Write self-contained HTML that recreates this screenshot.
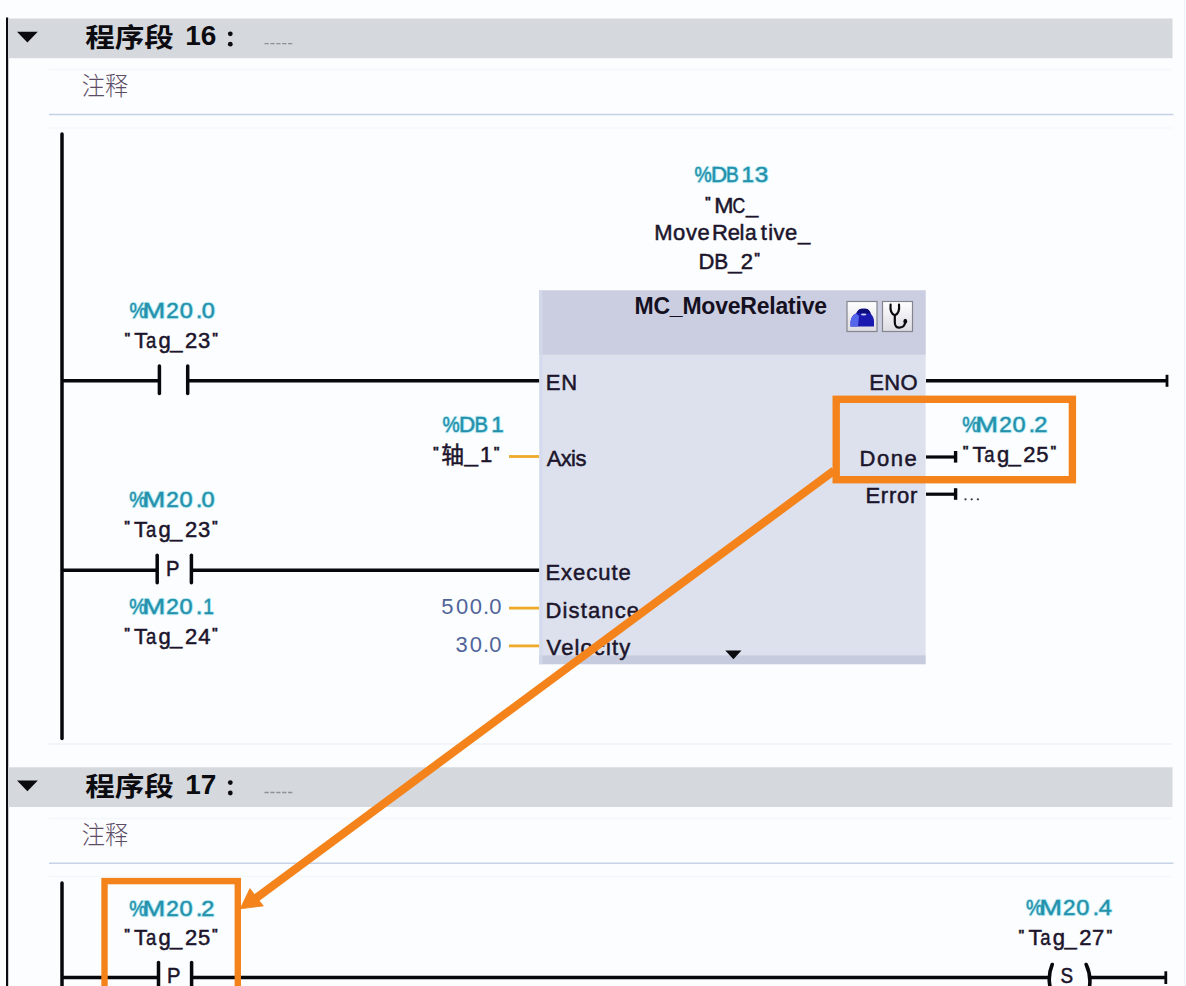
<!DOCTYPE html>
<html><head><meta charset="utf-8"><title>LAD</title>
<style>
html,body{margin:0;padding:0;background:#fbfdfe;}
body{width:1186px;height:986px;overflow:hidden;font-family:"Liberation Sans",sans-serif;}
svg{display:block;font-family:"Liberation Sans",sans-serif;}
</style></head><body>
<svg width="1186" height="986" viewBox="0 0 1186 986">
<rect width="1186" height="986" fill="#fbfdfe"/>
<rect x="6" y="17.5" width="2.2" height="970" fill="#0b0b14"/>
<rect x="8" y="18.5" width="1164.5" height="39.7" fill="#d5d8dc"/><path d="M17,31.8 L37.8,31.8 L27.4,42.4 Z" fill="#0a0a0f"/><text transform="translate(85.20,46.70) scale(1,0.89)" font-size="29.6" font-weight="bold" fill="#0b0b10" font-family="'Liberation Sans','Noto Sans CJK SC',sans-serif">程序段</text><text x="185.24" y="45.3" font-size="28" fill="#0b0b10" letter-spacing="-0.169" font-weight="bold">16</text><circle cx="230.3" cy="33.8" r="2.4" fill="#0b0b10"/><circle cx="230.3" cy="44.2" r="2.4" fill="#0b0b10"/><line x1="264.5" y1="43.7" x2="292.5" y2="43.7" stroke="#8d9096" stroke-width="1.3" stroke-dasharray="4.2,1.7"/><text transform="translate(81.80,94.80) scale(1,1.07)" font-size="23.2" font-weight="300" fill="#5d4c66" font-family="'Liberation Sans','Noto Sans CJK SC',sans-serif">注释</text><line x1="49" y1="114.5" x2="1173.5" y2="114.5" stroke="#c6d3e6" stroke-width="1.6"/>
<rect x="8" y="767.3" width="1164.5" height="39.7" fill="#d5d8dc"/><path d="M17,780.5999999999999 L37.8,780.5999999999999 L27.4,791.1999999999999 Z" fill="#0a0a0f"/><text transform="translate(85.20,795.50) scale(1,0.89)" font-size="29.6" font-weight="bold" fill="#0b0b10" font-family="'Liberation Sans','Noto Sans CJK SC',sans-serif">程序段</text><text x="185.24" y="794.0999999999999" font-size="28" fill="#0b0b10" letter-spacing="0.050" font-weight="bold">17</text><circle cx="230.3" cy="782.5999999999999" r="2.4" fill="#0b0b10"/><circle cx="230.3" cy="793.0" r="2.4" fill="#0b0b10"/><line x1="264.5" y1="792.5" x2="292.5" y2="792.5" stroke="#8d9096" stroke-width="1.3" stroke-dasharray="4.2,1.7"/><text transform="translate(81.80,843.60) scale(1,1.07)" font-size="23.2" font-weight="300" fill="#5d4c66" font-family="'Liberation Sans','Noto Sans CJK SC',sans-serif">注释</text><line x1="49" y1="863.3" x2="1173.5" y2="863.3" stroke="#c6d3e6" stroke-width="1.6"/>
<line x1="49" y1="744" x2="1172" y2="744" stroke="#eef2f7" stroke-width="1.5"/>
<line x1="1184.6" y1="0" x2="1184.6" y2="986" stroke="#eff3f7" stroke-width="1.4"/>
<line x1="49" y1="69.5" x2="1172" y2="69.5" stroke="#f5f8fb" stroke-width="1.5"/>
<line x1="49" y1="128.0" x2="1172" y2="128.0" stroke="#f5f8fb" stroke-width="1.5"/>
<line x1="49" y1="818.5" x2="1172" y2="818.5" stroke="#f5f8fb" stroke-width="1.5"/>
<line x1="49" y1="876.5" x2="1172" y2="876.5" stroke="#f5f8fb" stroke-width="1.5"/>
<line x1="62" y1="134" x2="62" y2="738.5" stroke="#07070c" stroke-width="3.5" stroke-linecap="round"/>
<line x1="62" y1="380.7" x2="159.4" y2="380.7" stroke="#07070c" stroke-width="3.5"/>
<line x1="187.7" y1="380.7" x2="539.5" y2="380.7" stroke="#07070c" stroke-width="3.5"/>
<line x1="159.4" y1="366" x2="159.4" y2="393.5" stroke="#07070c" stroke-width="3.5" stroke-linecap="round"/>
<line x1="187.7" y1="366" x2="187.7" y2="393.5" stroke="#07070c" stroke-width="3.5" stroke-linecap="round"/>
<text transform="translate(129.41,317.5) scale(0.9,1)" font-size="21.5" letter-spacing="0.000" font-weight="normal" stroke="#55d6ee" stroke-width="2.4" stroke-opacity="0.3" fill="none" stroke-linejoin="round">%</text><text transform="translate(129.41,317.5) scale(0.9,1)" font-size="21.5" fill="#2391ab" letter-spacing="0.000" font-weight="normal" stroke="#2391ab" stroke-width="0.4">%</text><text transform="translate(142.79,317.5) scale(1.2,1)" font-size="22.5" letter-spacing="0.000" font-weight="normal" stroke="#55d6ee" stroke-width="2.4" stroke-opacity="0.3" fill="none" stroke-linejoin="round">M</text><text transform="translate(142.79,317.5) scale(1.2,1)" font-size="22.5" fill="#2391ab" letter-spacing="0.000" font-weight="normal" stroke="#2391ab" stroke-width="0.4">M</text><text x="166.37" y="317.5" font-size="22.5" letter-spacing="0.000" font-weight="normal" stroke="#55d6ee" stroke-width="2.4" stroke-opacity="0.3" fill="none" stroke-linejoin="round">2</text><text x="166.37" y="317.5" font-size="22.5" fill="#2391ab" letter-spacing="0.000" font-weight="normal" stroke="#2391ab" stroke-width="0.4">2</text><text transform="translate(179.68,317.5) scale(1.05,1)" font-size="22.5" letter-spacing="0.000" font-weight="normal" stroke="#55d6ee" stroke-width="2.4" stroke-opacity="0.3" fill="none" stroke-linejoin="round">0</text><text transform="translate(179.68,317.5) scale(1.05,1)" font-size="22.5" fill="#2391ab" letter-spacing="0.000" font-weight="normal" stroke="#2391ab" stroke-width="0.4">0</text><text x="196.05" y="317.5" font-size="22.5" letter-spacing="0.000" font-weight="normal" stroke="#55d6ee" stroke-width="2.4" stroke-opacity="0.3" fill="none" stroke-linejoin="round">.</text><text x="196.05" y="317.5" font-size="22.5" fill="#2391ab" letter-spacing="0.000" font-weight="normal" stroke="#2391ab" stroke-width="0.4">.</text><text transform="translate(201.68,317.5) scale(1.05,1)" font-size="22.5" letter-spacing="0.000" font-weight="normal" stroke="#55d6ee" stroke-width="2.4" stroke-opacity="0.3" fill="none" stroke-linejoin="round">0</text><text transform="translate(201.68,317.5) scale(1.05,1)" font-size="22.5" fill="#2391ab" letter-spacing="0.000" font-weight="normal" stroke="#2391ab" stroke-width="0.4">0</text>
<text transform="translate(124.13,341.6) scale(1.1,1)" font-size="12" fill="#1c152c" letter-spacing="0.000" font-weight="bold" stroke="#1c152c" stroke-width="0.4">&quot;</text><text x="134.21" y="348" font-size="22" fill="#1c152c" letter-spacing="0.000" font-weight="normal" stroke="#1c152c" stroke-width="0.5">T</text><text transform="translate(146.01,348) scale(0.84,1)" font-size="22" fill="#1c152c" letter-spacing="0.000" font-weight="normal" stroke="#1c152c" stroke-width="0.5">a</text><text x="158.58" y="348" font-size="22" fill="#1c152c" letter-spacing="-0.600" font-weight="normal" stroke="#1c152c" stroke-width="0.5">g_</text><text x="184.99" y="348" font-size="22" fill="#1c152c" letter-spacing="0.000" font-weight="normal" stroke="#1c152c" stroke-width="0.5">2</text><text x="198.06" y="348" font-size="22" fill="#1c152c" letter-spacing="0.000" font-weight="normal" stroke="#1c152c" stroke-width="0.5">3</text><text transform="translate(211.93,341.6) scale(1.1,1)" font-size="12" fill="#1c152c" letter-spacing="0.000" font-weight="bold" stroke="#1c152c" stroke-width="0.4">&quot;</text>
<line x1="62" y1="570.2" x2="157.2" y2="570.2" stroke="#07070c" stroke-width="3.5"/>
<line x1="191.4" y1="570.2" x2="539.5" y2="570.2" stroke="#07070c" stroke-width="3.5"/>
<line x1="157.2" y1="555.3" x2="157.2" y2="582.7" stroke="#07070c" stroke-width="3.5" stroke-linecap="round"/>
<line x1="191.4" y1="555.3" x2="191.4" y2="582.7" stroke="#07070c" stroke-width="3.5" stroke-linecap="round"/>
<text transform="translate(166.04,575.6) scale(0.92,1)" font-size="22" fill="#1c152c" letter-spacing="0.000" font-weight="normal" stroke="#1c152c" stroke-width="0.5">P</text>
<text transform="translate(129.31,507.4) scale(0.9,1)" font-size="21.5" letter-spacing="0.000" font-weight="normal" stroke="#55d6ee" stroke-width="2.4" stroke-opacity="0.3" fill="none" stroke-linejoin="round">%</text><text transform="translate(129.31,507.4) scale(0.9,1)" font-size="21.5" fill="#2391ab" letter-spacing="0.000" font-weight="normal" stroke="#2391ab" stroke-width="0.4">%</text><text transform="translate(142.69,507.4) scale(1.2,1)" font-size="22.5" letter-spacing="0.000" font-weight="normal" stroke="#55d6ee" stroke-width="2.4" stroke-opacity="0.3" fill="none" stroke-linejoin="round">M</text><text transform="translate(142.69,507.4) scale(1.2,1)" font-size="22.5" fill="#2391ab" letter-spacing="0.000" font-weight="normal" stroke="#2391ab" stroke-width="0.4">M</text><text x="166.27" y="507.4" font-size="22.5" letter-spacing="0.000" font-weight="normal" stroke="#55d6ee" stroke-width="2.4" stroke-opacity="0.3" fill="none" stroke-linejoin="round">2</text><text x="166.27" y="507.4" font-size="22.5" fill="#2391ab" letter-spacing="0.000" font-weight="normal" stroke="#2391ab" stroke-width="0.4">2</text><text transform="translate(179.58,507.4) scale(1.05,1)" font-size="22.5" letter-spacing="0.000" font-weight="normal" stroke="#55d6ee" stroke-width="2.4" stroke-opacity="0.3" fill="none" stroke-linejoin="round">0</text><text transform="translate(179.58,507.4) scale(1.05,1)" font-size="22.5" fill="#2391ab" letter-spacing="0.000" font-weight="normal" stroke="#2391ab" stroke-width="0.4">0</text><text x="195.95" y="507.4" font-size="22.5" letter-spacing="0.000" font-weight="normal" stroke="#55d6ee" stroke-width="2.4" stroke-opacity="0.3" fill="none" stroke-linejoin="round">.</text><text x="195.95" y="507.4" font-size="22.5" fill="#2391ab" letter-spacing="0.000" font-weight="normal" stroke="#2391ab" stroke-width="0.4">.</text><text transform="translate(201.58,507.4) scale(1.05,1)" font-size="22.5" letter-spacing="0.000" font-weight="normal" stroke="#55d6ee" stroke-width="2.4" stroke-opacity="0.3" fill="none" stroke-linejoin="round">0</text><text transform="translate(201.58,507.4) scale(1.05,1)" font-size="22.5" fill="#2391ab" letter-spacing="0.000" font-weight="normal" stroke="#2391ab" stroke-width="0.4">0</text>
<text transform="translate(124.03,530.4) scale(1.1,1)" font-size="12" fill="#1c152c" letter-spacing="0.000" font-weight="bold" stroke="#1c152c" stroke-width="0.4">&quot;</text><text x="134.11" y="536.8" font-size="22" fill="#1c152c" letter-spacing="0.000" font-weight="normal" stroke="#1c152c" stroke-width="0.5">T</text><text transform="translate(145.91,536.8) scale(0.84,1)" font-size="22" fill="#1c152c" letter-spacing="0.000" font-weight="normal" stroke="#1c152c" stroke-width="0.5">a</text><text x="158.48" y="536.8" font-size="22" fill="#1c152c" letter-spacing="-0.600" font-weight="normal" stroke="#1c152c" stroke-width="0.5">g_</text><text x="184.89" y="536.8" font-size="22" fill="#1c152c" letter-spacing="0.000" font-weight="normal" stroke="#1c152c" stroke-width="0.5">2</text><text x="197.96" y="536.8" font-size="22" fill="#1c152c" letter-spacing="0.000" font-weight="normal" stroke="#1c152c" stroke-width="0.5">3</text><text transform="translate(211.83,530.4) scale(1.1,1)" font-size="12" fill="#1c152c" letter-spacing="0.000" font-weight="bold" stroke="#1c152c" stroke-width="0.4">&quot;</text>
<text transform="translate(129.31,613.6) scale(0.9,1)" font-size="21.5" letter-spacing="0.000" font-weight="normal" stroke="#55d6ee" stroke-width="2.4" stroke-opacity="0.3" fill="none" stroke-linejoin="round">%</text><text transform="translate(129.31,613.6) scale(0.9,1)" font-size="21.5" fill="#2391ab" letter-spacing="0.000" font-weight="normal" stroke="#2391ab" stroke-width="0.4">%</text><text transform="translate(142.69,613.6) scale(1.2,1)" font-size="22.5" letter-spacing="0.000" font-weight="normal" stroke="#55d6ee" stroke-width="2.4" stroke-opacity="0.3" fill="none" stroke-linejoin="round">M</text><text transform="translate(142.69,613.6) scale(1.2,1)" font-size="22.5" fill="#2391ab" letter-spacing="0.000" font-weight="normal" stroke="#2391ab" stroke-width="0.4">M</text><text x="166.27" y="613.6" font-size="22.5" letter-spacing="0.000" font-weight="normal" stroke="#55d6ee" stroke-width="2.4" stroke-opacity="0.3" fill="none" stroke-linejoin="round">2</text><text x="166.27" y="613.6" font-size="22.5" fill="#2391ab" letter-spacing="0.000" font-weight="normal" stroke="#2391ab" stroke-width="0.4">2</text><text transform="translate(179.58,613.6) scale(1.05,1)" font-size="22.5" letter-spacing="0.000" font-weight="normal" stroke="#55d6ee" stroke-width="2.4" stroke-opacity="0.3" fill="none" stroke-linejoin="round">0</text><text transform="translate(179.58,613.6) scale(1.05,1)" font-size="22.5" fill="#2391ab" letter-spacing="0.000" font-weight="normal" stroke="#2391ab" stroke-width="0.4">0</text><text x="195.95" y="613.6" font-size="22.5" letter-spacing="0.000" font-weight="normal" stroke="#55d6ee" stroke-width="2.4" stroke-opacity="0.3" fill="none" stroke-linejoin="round">.</text><text x="195.95" y="613.6" font-size="22.5" fill="#2391ab" letter-spacing="0.000" font-weight="normal" stroke="#2391ab" stroke-width="0.4">.</text><text transform="translate(203.14,613.6) scale(0.85,1)" font-size="22.5" letter-spacing="0.000" font-weight="normal" stroke="#55d6ee" stroke-width="2.4" stroke-opacity="0.3" fill="none" stroke-linejoin="round">1</text><text transform="translate(203.14,613.6) scale(0.85,1)" font-size="22.5" fill="#2391ab" letter-spacing="0.000" font-weight="normal" stroke="#2391ab" stroke-width="0.4">1</text>
<text transform="translate(124.03,637.2) scale(1.1,1)" font-size="12" fill="#1c152c" letter-spacing="0.000" font-weight="bold" stroke="#1c152c" stroke-width="0.4">&quot;</text><text x="134.11" y="643.6" font-size="22" fill="#1c152c" letter-spacing="0.000" font-weight="normal" stroke="#1c152c" stroke-width="0.5">T</text><text transform="translate(145.91,643.6) scale(0.84,1)" font-size="22" fill="#1c152c" letter-spacing="0.000" font-weight="normal" stroke="#1c152c" stroke-width="0.5">a</text><text x="158.48" y="643.6" font-size="22" fill="#1c152c" letter-spacing="-0.600" font-weight="normal" stroke="#1c152c" stroke-width="0.5">g_</text><text x="184.89" y="643.6" font-size="22" fill="#1c152c" letter-spacing="0.000" font-weight="normal" stroke="#1c152c" stroke-width="0.5">2</text><text x="198.30" y="643.6" font-size="22" fill="#1c152c" letter-spacing="0.000" font-weight="normal" stroke="#1c152c" stroke-width="0.5">4</text><text transform="translate(211.83,637.2) scale(1.1,1)" font-size="12" fill="#1c152c" letter-spacing="0.000" font-weight="bold" stroke="#1c152c" stroke-width="0.4">&quot;</text>
<rect x="539.3" y="290.4" width="386.3" height="373.8" fill="#dde1ee"/>
<rect x="539.3" y="290.4" width="386.3" height="64.3" fill="#cbcee0"/>
<rect x="539.3" y="655.4" width="386.3" height="8.8" fill="#c7cbde"/>
<rect x="539.3" y="290.4" width="3.2" height="373.8" fill="#d3daec" opacity="0.8"/>
<text x="634.46" y="314.3" font-size="23" fill="#15101f" letter-spacing="-0.210" font-weight="bold">MC_MoveRelative</text>
<defs><linearGradient id="ib" x1="0" y1="0" x2="0" y2="1"><stop offset="0" stop-color="#ffffff"/><stop offset="1" stop-color="#dcdce2"/></linearGradient></defs>
<rect x="847" y="301.5" width="30" height="30" fill="url(#ib)" stroke="#84848f" stroke-width="1.2"/>
<rect x="882.5" y="301.5" width="30" height="30" fill="url(#ib)" stroke="#84848f" stroke-width="1.2"/>
<path d="M850.5,326.5 L850.5,322 Q851,315.5 856,313.5 Q858,308.8 862,308.8 L866,308.8 Q869.5,309.5 871,314 Q874,317 874,322 L874,326.5 Z" fill="#1a1ab0"/>
<path d="M850.5,326.5 L850.5,322 Q851,315.5 856,313.5 L859,316 L858,326.5 Z" fill="#5566ea"/>
<path d="M857,313 Q858.5,308.8 862,308.8 L866,308.8 Q869.5,309.5 870.5,313.5 Z" fill="#0d0d7a"/>
<ellipse cx="863.7" cy="314.6" rx="2.8" ry="1" fill="#c8cdf5"/>
<path d="M890.6,304.6 Q889.6,313.5 894.8,315.2 Q900,313.5 899,304.6 M894.8,315 L894.8,322.5 Q895,327.8 899.5,327.6 Q904.6,327.4 905.2,322" fill="none" stroke="#0a0a0f" stroke-width="2.2" stroke-linecap="round" stroke-linejoin="round"/>
<ellipse cx="905.3" cy="321.3" rx="1.9" ry="2.5" fill="#0a0a0f"/>
<text x="545.70" y="390.0" font-size="22" fill="#1c152c" letter-spacing="0.937" font-weight="normal" stroke="#1c152c" stroke-width="0.5">EN</text>
<text x="869.30" y="390.0" font-size="22" fill="#1c152c" letter-spacing="0.292" font-weight="normal" stroke="#1c152c" stroke-width="0.5">ENO</text>
<text x="546.66" y="465.8" font-size="22" fill="#1c152c" letter-spacing="-0.608" font-weight="normal" stroke="#1c152c" stroke-width="0.5">Axis</text>
<text x="545.40" y="579.8" font-size="22" fill="#1c152c" letter-spacing="0.982" font-weight="normal" stroke="#1c152c" stroke-width="0.5">Execute</text>
<text x="545.40" y="617.7" font-size="22" fill="#1c152c" letter-spacing="1.155" font-weight="normal" stroke="#1c152c" stroke-width="0.5">Distance</text>
<text x="546.60" y="654.8" font-size="22" fill="#1c152c" letter-spacing="1.115" font-weight="normal" stroke="#1c152c" stroke-width="0.5">Velocity</text>
<text x="859.60" y="465.7" font-size="22" fill="#1c152c" letter-spacing="1.496" font-weight="normal" stroke="#1c152c" stroke-width="0.5">Done</text>
<text x="865.40" y="503.4" font-size="22" fill="#1c152c" letter-spacing="0.771" font-weight="normal" stroke="#1c152c" stroke-width="0.5">Error</text>
<path d="M725.3,650.4 L741.5,650.4 L733.4,659.3 Z" fill="#0a0a0f"/>
<line x1="509" y1="456.5" x2="539" y2="456.5" stroke="#eeaa28" stroke-width="2.8"/>
<line x1="509" y1="608.1" x2="539" y2="608.1" stroke="#eeaa28" stroke-width="2.8"/>
<line x1="509" y1="645.9" x2="539" y2="645.9" stroke="#eeaa28" stroke-width="2.8"/>
<text transform="translate(442.51,431.8) scale(0.9,1)" font-size="21.5" letter-spacing="0.000" font-weight="normal" stroke="#55d6ee" stroke-width="2.4" stroke-opacity="0.3" fill="none" stroke-linejoin="round">%</text><text transform="translate(442.51,431.8) scale(0.9,1)" font-size="21.5" fill="#2391ab" letter-spacing="0.000" font-weight="normal" stroke="#2391ab" stroke-width="0.4">%</text>
<text x="459.05" y="431.8" font-size="22.5" letter-spacing="0.000" font-weight="normal" stroke="#55d6ee" stroke-width="2.4" stroke-opacity="0.3" fill="none" stroke-linejoin="round">D</text><text x="459.05" y="431.8" font-size="22.5" fill="#2391ab" letter-spacing="0.000" font-weight="normal" stroke="#2391ab" stroke-width="0.4">D</text>
<text transform="translate(474.44,431.8) scale(0.9,1)" font-size="22.5" letter-spacing="0.000" font-weight="normal" stroke="#55d6ee" stroke-width="2.4" stroke-opacity="0.3" fill="none" stroke-linejoin="round">B</text><text transform="translate(474.44,431.8) scale(0.9,1)" font-size="22.5" fill="#2391ab" letter-spacing="0.000" font-weight="normal" stroke="#2391ab" stroke-width="0.4">B</text>
<text x="491.29" y="431.8" font-size="22.5" letter-spacing="0.000" font-weight="normal" stroke="#55d6ee" stroke-width="2.4" stroke-opacity="0.3" fill="none" stroke-linejoin="round">1</text><text x="491.29" y="431.8" font-size="22.5" fill="#2391ab" letter-spacing="0.000" font-weight="normal" stroke="#2391ab" stroke-width="0.4">1</text>
<text transform="translate(432.73,455.6) scale(1.1,1)" font-size="12" fill="#1c152c" letter-spacing="0.000" font-weight="bold" stroke="#1c152c" stroke-width="0.4">&quot;</text>
<text x="441.2" y="462.6" font-size="22.8" fill="#1c152c" stroke="#1c152c" stroke-width="0.5" font-family="'Liberation Sans','Noto Sans CJK SC',sans-serif">轴</text>
<text transform="translate(464.57,462.2) scale(1.1,1)" font-size="22" fill="#1c152c" letter-spacing="0.000" font-weight="normal" stroke="#1c152c" stroke-width="0.5">_</text>
<text x="480.12" y="461.9" font-size="22" fill="#1c152c" letter-spacing="0.000" font-weight="normal" stroke="#1c152c" stroke-width="0.5">1</text>
<text transform="translate(493.43,455.6) scale(1.1,1)" font-size="12" fill="#1c152c" letter-spacing="0.000" font-weight="bold" stroke="#1c152c" stroke-width="0.4">&quot;</text>
<text x="441.22" y="613.8" font-size="22" fill="#50649a" letter-spacing="0.000" font-weight="normal">5</text>
<text x="455.94" y="613.8" font-size="22" fill="#50649a" letter-spacing="0.000" font-weight="normal">0</text>
<text x="469.64" y="613.8" font-size="22" fill="#50649a" letter-spacing="0.000" font-weight="normal">0</text>
<text x="483.09" y="613.8" font-size="22" fill="#50649a" letter-spacing="0.000" font-weight="normal">.</text>
<text x="489.34" y="613.8" font-size="22" fill="#50649a" letter-spacing="0.000" font-weight="normal">0</text>
<text x="455.46" y="651.6" font-size="22" fill="#50649a" letter-spacing="0.000" font-weight="normal">3</text>
<text x="469.64" y="651.6" font-size="22" fill="#50649a" letter-spacing="0.000" font-weight="normal">0</text>
<text x="483.09" y="651.6" font-size="22" fill="#50649a" letter-spacing="0.000" font-weight="normal">.</text>
<text x="489.34" y="651.6" font-size="22" fill="#50649a" letter-spacing="0.000" font-weight="normal">0</text>
<text transform="translate(694.41,182.3) scale(0.9,1)" font-size="21.5" letter-spacing="0.000" font-weight="normal" stroke="#55d6ee" stroke-width="2.4" stroke-opacity="0.3" fill="none" stroke-linejoin="round">%</text><text transform="translate(694.41,182.3) scale(0.9,1)" font-size="21.5" fill="#2391ab" letter-spacing="0.000" font-weight="normal" stroke="#2391ab" stroke-width="0.4">%</text>
<text x="710.95" y="182.3" font-size="22.5" letter-spacing="0.000" font-weight="normal" stroke="#55d6ee" stroke-width="2.4" stroke-opacity="0.3" fill="none" stroke-linejoin="round">D</text><text x="710.95" y="182.3" font-size="22.5" fill="#2391ab" letter-spacing="0.000" font-weight="normal" stroke="#2391ab" stroke-width="0.4">D</text>
<text transform="translate(726.03,182.3) scale(0.85,1)" font-size="22.5" letter-spacing="0.000" font-weight="normal" stroke="#55d6ee" stroke-width="2.4" stroke-opacity="0.3" fill="none" stroke-linejoin="round">B</text><text transform="translate(726.03,182.3) scale(0.85,1)" font-size="22.5" fill="#2391ab" letter-spacing="0.000" font-weight="normal" stroke="#2391ab" stroke-width="0.4">B</text>
<text x="741.59" y="182.3" font-size="22.5" letter-spacing="0.000" font-weight="normal" stroke="#55d6ee" stroke-width="2.4" stroke-opacity="0.3" fill="none" stroke-linejoin="round">1</text><text x="741.59" y="182.3" font-size="22.5" fill="#2391ab" letter-spacing="0.000" font-weight="normal" stroke="#2391ab" stroke-width="0.4">1</text>
<text transform="translate(754.67,182.3) scale(1.08,1)" font-size="22.5" letter-spacing="0.000" font-weight="normal" stroke="#55d6ee" stroke-width="2.4" stroke-opacity="0.3" fill="none" stroke-linejoin="round">3</text><text transform="translate(754.67,182.3) scale(1.08,1)" font-size="22.5" fill="#2391ab" letter-spacing="0.000" font-weight="normal" stroke="#2391ab" stroke-width="0.4">3</text>
<text transform="translate(704.83,206.4) scale(1.1,1)" font-size="12" fill="#1c152c" letter-spacing="0.000" font-weight="bold" stroke="#1c152c" stroke-width="0.4">&quot;</text>
<text transform="translate(714.31,213.0) scale(1.05,1)" font-size="22" fill="#1c152c" letter-spacing="0.000" font-weight="normal" stroke="#1c152c" stroke-width="0.5">M</text>
<text transform="translate(732.61,213.0) scale(0.8,1)" font-size="22" fill="#1c152c" letter-spacing="0.000" font-weight="normal" stroke="#1c152c" stroke-width="0.5">C</text>
<text x="746.03" y="213.0" font-size="22" fill="#1c152c" letter-spacing="0.000" font-weight="normal" stroke="#1c152c" stroke-width="0.5">_</text>
<text x="654.20" y="240.2" font-size="22" fill="#1c152c" letter-spacing="0.595" font-weight="normal" stroke="#1c152c" stroke-width="0.5">Move</text>
<text x="712.00" y="240.2" font-size="22" fill="#1c152c" letter-spacing="-0.241" font-weight="normal" stroke="#1c152c" stroke-width="0.5">Re</text>
<text x="739.52" y="240.2" font-size="22" fill="#1c152c" letter-spacing="0.000" font-weight="normal" stroke="#1c152c" stroke-width="0.5">l</text>
<text transform="translate(745.11,240.2) scale(0.95,1)" font-size="22" fill="#1c152c" letter-spacing="0.000" font-weight="normal" stroke="#1c152c" stroke-width="0.5">a</text>
<text x="760.77" y="240.2" font-size="22" fill="#1c152c" letter-spacing="0.000" font-weight="normal" stroke="#1c152c" stroke-width="0.5">t</text>
<text x="768.23" y="240.2" font-size="22" fill="#1c152c" letter-spacing="0.413" font-weight="normal" stroke="#1c152c" stroke-width="0.5">ive</text>
<text x="797.93" y="240.2" font-size="22" fill="#1c152c" letter-spacing="0.000" font-weight="normal" stroke="#1c152c" stroke-width="0.5">_</text>
<text x="698.40" y="268.6" font-size="22" fill="#1c152c" letter-spacing="0.000" font-weight="normal" stroke="#1c152c" stroke-width="0.5">D</text>
<text transform="translate(714.29,268.6) scale(0.95,1)" font-size="22" fill="#1c152c" letter-spacing="0.000" font-weight="normal" stroke="#1c152c" stroke-width="0.5">B</text>
<text transform="translate(728.37,268.6) scale(1.1,1)" font-size="22" fill="#1c152c" letter-spacing="0.000" font-weight="normal" stroke="#1c152c" stroke-width="0.5">_</text>
<text x="740.79" y="268.6" font-size="22" fill="#1c152c" letter-spacing="0.000" font-weight="normal" stroke="#1c152c" stroke-width="0.5">2</text>
<text transform="translate(753.93,262.20000000000005) scale(1.1,1)" font-size="12" fill="#1c152c" letter-spacing="0.000" font-weight="bold" stroke="#1c152c" stroke-width="0.4">&quot;</text>
<line x1="926" y1="380.7" x2="1167" y2="380.7" stroke="#07070c" stroke-width="3.5"/>
<line x1="1167" y1="374.8" x2="1167" y2="386.8" stroke="#07070c" stroke-width="2.8" stroke-linecap="butt"/>
<line x1="926" y1="457.0" x2="956" y2="457.0" stroke="#07070c" stroke-width="3.2"/>
<line x1="955.6" y1="451.0" x2="955.6" y2="462.6" stroke="#07070c" stroke-width="3.4" stroke-linecap="butt"/>
<line x1="926" y1="494.2" x2="956" y2="494.2" stroke="#07070c" stroke-width="3.2"/>
<line x1="955.6" y1="488.2" x2="955.6" y2="499.8" stroke="#07070c" stroke-width="3.4" stroke-linecap="butt"/>
<text transform="translate(962.21,431.8) scale(0.9,1)" font-size="21.5" letter-spacing="0.000" font-weight="normal" stroke="#55d6ee" stroke-width="2.4" stroke-opacity="0.3" fill="none" stroke-linejoin="round">%</text><text transform="translate(962.21,431.8) scale(0.9,1)" font-size="21.5" fill="#2391ab" letter-spacing="0.000" font-weight="normal" stroke="#2391ab" stroke-width="0.4">%</text><text transform="translate(975.59,431.8) scale(1.2,1)" font-size="22.5" letter-spacing="0.000" font-weight="normal" stroke="#55d6ee" stroke-width="2.4" stroke-opacity="0.3" fill="none" stroke-linejoin="round">M</text><text transform="translate(975.59,431.8) scale(1.2,1)" font-size="22.5" fill="#2391ab" letter-spacing="0.000" font-weight="normal" stroke="#2391ab" stroke-width="0.4">M</text><text x="999.17" y="431.8" font-size="22.5" letter-spacing="0.000" font-weight="normal" stroke="#55d6ee" stroke-width="2.4" stroke-opacity="0.3" fill="none" stroke-linejoin="round">2</text><text x="999.17" y="431.8" font-size="22.5" fill="#2391ab" letter-spacing="0.000" font-weight="normal" stroke="#2391ab" stroke-width="0.4">2</text><text transform="translate(1012.48,431.8) scale(1.05,1)" font-size="22.5" letter-spacing="0.000" font-weight="normal" stroke="#55d6ee" stroke-width="2.4" stroke-opacity="0.3" fill="none" stroke-linejoin="round">0</text><text transform="translate(1012.48,431.8) scale(1.05,1)" font-size="22.5" fill="#2391ab" letter-spacing="0.000" font-weight="normal" stroke="#2391ab" stroke-width="0.4">0</text><text x="1028.85" y="431.8" font-size="22.5" letter-spacing="0.000" font-weight="normal" stroke="#55d6ee" stroke-width="2.4" stroke-opacity="0.3" fill="none" stroke-linejoin="round">.</text><text x="1028.85" y="431.8" font-size="22.5" fill="#2391ab" letter-spacing="0.000" font-weight="normal" stroke="#2391ab" stroke-width="0.4">.</text><text transform="translate(1034.21,431.8) scale(1.05,1)" font-size="22.5" letter-spacing="0.000" font-weight="normal" stroke="#55d6ee" stroke-width="2.4" stroke-opacity="0.3" fill="none" stroke-linejoin="round">2</text><text transform="translate(1034.21,431.8) scale(1.05,1)" font-size="22.5" fill="#2391ab" letter-spacing="0.000" font-weight="normal" stroke="#2391ab" stroke-width="0.4">2</text>
<text transform="translate(962.43,455.40000000000003) scale(1.1,1)" font-size="12" fill="#1c152c" letter-spacing="0.000" font-weight="bold" stroke="#1c152c" stroke-width="0.4">&quot;</text><text x="972.51" y="461.8" font-size="22" fill="#1c152c" letter-spacing="0.000" font-weight="normal" stroke="#1c152c" stroke-width="0.5">T</text><text transform="translate(984.31,461.8) scale(0.84,1)" font-size="22" fill="#1c152c" letter-spacing="0.000" font-weight="normal" stroke="#1c152c" stroke-width="0.5">a</text><text x="996.88" y="461.8" font-size="22" fill="#1c152c" letter-spacing="-0.600" font-weight="normal" stroke="#1c152c" stroke-width="0.5">g_</text><text x="1023.29" y="461.8" font-size="22" fill="#1c152c" letter-spacing="0.000" font-weight="normal" stroke="#1c152c" stroke-width="0.5">2</text><text x="1036.32" y="461.8" font-size="22" fill="#1c152c" letter-spacing="0.000" font-weight="normal" stroke="#1c152c" stroke-width="0.5">5</text><text transform="translate(1050.23,455.40000000000003) scale(1.1,1)" font-size="12" fill="#1c152c" letter-spacing="0.000" font-weight="bold" stroke="#1c152c" stroke-width="0.4">&quot;</text>
<circle cx="965.5" cy="499.3" r="1.15" fill="#3a3a48"/>
<circle cx="971.7" cy="499.3" r="1.15" fill="#3a3a48"/>
<circle cx="977.9" cy="499.3" r="1.15" fill="#3a3a48"/>
<line x1="62" y1="883" x2="62" y2="992" stroke="#07070c" stroke-width="3.5" stroke-linecap="round"/>
<line x1="62" y1="977.6" x2="158.5" y2="977.6" stroke="#07070c" stroke-width="3.5"/>
<line x1="191.6" y1="977.6" x2="1049.5" y2="977.6" stroke="#07070c" stroke-width="3.5"/>
<line x1="1089.3" y1="977.6" x2="1166" y2="977.6" stroke="#07070c" stroke-width="3.5"/>
<line x1="1165.8" y1="971.3" x2="1165.8" y2="984" stroke="#07070c" stroke-width="2.8" stroke-linecap="butt"/>
<line x1="158.5" y1="962.5" x2="158.5" y2="992" stroke="#07070c" stroke-width="3.5" stroke-linecap="round"/>
<line x1="191.6" y1="962.5" x2="191.6" y2="992" stroke="#07070c" stroke-width="3.5" stroke-linecap="round"/>
<text transform="translate(166.94,983.0) scale(0.92,1)" font-size="22" fill="#1c152c" letter-spacing="0.000" font-weight="normal" stroke="#1c152c" stroke-width="0.5">P</text>
<text transform="translate(129.31,916) scale(0.9,1)" font-size="21.5" letter-spacing="0.000" font-weight="normal" stroke="#55d6ee" stroke-width="2.4" stroke-opacity="0.3" fill="none" stroke-linejoin="round">%</text><text transform="translate(129.31,916) scale(0.9,1)" font-size="21.5" fill="#2391ab" letter-spacing="0.000" font-weight="normal" stroke="#2391ab" stroke-width="0.4">%</text><text transform="translate(142.69,916) scale(1.2,1)" font-size="22.5" letter-spacing="0.000" font-weight="normal" stroke="#55d6ee" stroke-width="2.4" stroke-opacity="0.3" fill="none" stroke-linejoin="round">M</text><text transform="translate(142.69,916) scale(1.2,1)" font-size="22.5" fill="#2391ab" letter-spacing="0.000" font-weight="normal" stroke="#2391ab" stroke-width="0.4">M</text><text x="166.27" y="916" font-size="22.5" letter-spacing="0.000" font-weight="normal" stroke="#55d6ee" stroke-width="2.4" stroke-opacity="0.3" fill="none" stroke-linejoin="round">2</text><text x="166.27" y="916" font-size="22.5" fill="#2391ab" letter-spacing="0.000" font-weight="normal" stroke="#2391ab" stroke-width="0.4">2</text><text transform="translate(179.58,916) scale(1.05,1)" font-size="22.5" letter-spacing="0.000" font-weight="normal" stroke="#55d6ee" stroke-width="2.4" stroke-opacity="0.3" fill="none" stroke-linejoin="round">0</text><text transform="translate(179.58,916) scale(1.05,1)" font-size="22.5" fill="#2391ab" letter-spacing="0.000" font-weight="normal" stroke="#2391ab" stroke-width="0.4">0</text><text x="195.95" y="916" font-size="22.5" letter-spacing="0.000" font-weight="normal" stroke="#55d6ee" stroke-width="2.4" stroke-opacity="0.3" fill="none" stroke-linejoin="round">.</text><text x="195.95" y="916" font-size="22.5" fill="#2391ab" letter-spacing="0.000" font-weight="normal" stroke="#2391ab" stroke-width="0.4">.</text><text transform="translate(201.31,916) scale(1.05,1)" font-size="22.5" letter-spacing="0.000" font-weight="normal" stroke="#55d6ee" stroke-width="2.4" stroke-opacity="0.3" fill="none" stroke-linejoin="round">2</text><text transform="translate(201.31,916) scale(1.05,1)" font-size="22.5" fill="#2391ab" letter-spacing="0.000" font-weight="normal" stroke="#2391ab" stroke-width="0.4">2</text>
<text transform="translate(124.03,938.4) scale(1.1,1)" font-size="12" fill="#1c152c" letter-spacing="0.000" font-weight="bold" stroke="#1c152c" stroke-width="0.4">&quot;</text><text x="134.11" y="944.8" font-size="22" fill="#1c152c" letter-spacing="0.000" font-weight="normal" stroke="#1c152c" stroke-width="0.5">T</text><text transform="translate(145.91,944.8) scale(0.84,1)" font-size="22" fill="#1c152c" letter-spacing="0.000" font-weight="normal" stroke="#1c152c" stroke-width="0.5">a</text><text x="158.48" y="944.8" font-size="22" fill="#1c152c" letter-spacing="-0.600" font-weight="normal" stroke="#1c152c" stroke-width="0.5">g_</text><text x="184.89" y="944.8" font-size="22" fill="#1c152c" letter-spacing="0.000" font-weight="normal" stroke="#1c152c" stroke-width="0.5">2</text><text x="197.92" y="944.8" font-size="22" fill="#1c152c" letter-spacing="0.000" font-weight="normal" stroke="#1c152c" stroke-width="0.5">5</text><text transform="translate(211.83,938.4) scale(1.1,1)" font-size="12" fill="#1c152c" letter-spacing="0.000" font-weight="bold" stroke="#1c152c" stroke-width="0.4">&quot;</text>
<text transform="translate(1026.01,915.0) scale(0.9,1)" font-size="21.5" letter-spacing="0.000" font-weight="normal" stroke="#55d6ee" stroke-width="2.4" stroke-opacity="0.3" fill="none" stroke-linejoin="round">%</text><text transform="translate(1026.01,915.0) scale(0.9,1)" font-size="21.5" fill="#2391ab" letter-spacing="0.000" font-weight="normal" stroke="#2391ab" stroke-width="0.4">%</text><text transform="translate(1039.39,915.0) scale(1.2,1)" font-size="22.5" letter-spacing="0.000" font-weight="normal" stroke="#55d6ee" stroke-width="2.4" stroke-opacity="0.3" fill="none" stroke-linejoin="round">M</text><text transform="translate(1039.39,915.0) scale(1.2,1)" font-size="22.5" fill="#2391ab" letter-spacing="0.000" font-weight="normal" stroke="#2391ab" stroke-width="0.4">M</text><text x="1062.97" y="915.0" font-size="22.5" letter-spacing="0.000" font-weight="normal" stroke="#55d6ee" stroke-width="2.4" stroke-opacity="0.3" fill="none" stroke-linejoin="round">2</text><text x="1062.97" y="915.0" font-size="22.5" fill="#2391ab" letter-spacing="0.000" font-weight="normal" stroke="#2391ab" stroke-width="0.4">2</text><text transform="translate(1076.28,915.0) scale(1.05,1)" font-size="22.5" letter-spacing="0.000" font-weight="normal" stroke="#55d6ee" stroke-width="2.4" stroke-opacity="0.3" fill="none" stroke-linejoin="round">0</text><text transform="translate(1076.28,915.0) scale(1.05,1)" font-size="22.5" fill="#2391ab" letter-spacing="0.000" font-weight="normal" stroke="#2391ab" stroke-width="0.4">0</text><text x="1092.65" y="915.0" font-size="22.5" letter-spacing="0.000" font-weight="normal" stroke="#55d6ee" stroke-width="2.4" stroke-opacity="0.3" fill="none" stroke-linejoin="round">.</text><text x="1092.65" y="915.0" font-size="22.5" fill="#2391ab" letter-spacing="0.000" font-weight="normal" stroke="#2391ab" stroke-width="0.4">.</text><text transform="translate(1098.66,915.0) scale(1.05,1)" font-size="22.5" letter-spacing="0.000" font-weight="normal" stroke="#55d6ee" stroke-width="2.4" stroke-opacity="0.3" fill="none" stroke-linejoin="round">4</text><text transform="translate(1098.66,915.0) scale(1.05,1)" font-size="22.5" fill="#2391ab" letter-spacing="0.000" font-weight="normal" stroke="#2391ab" stroke-width="0.4">4</text>
<text transform="translate(1018.33,938.7) scale(1.1,1)" font-size="12" fill="#1c152c" letter-spacing="0.000" font-weight="bold" stroke="#1c152c" stroke-width="0.4">&quot;</text><text x="1028.41" y="945.1" font-size="22" fill="#1c152c" letter-spacing="0.000" font-weight="normal" stroke="#1c152c" stroke-width="0.5">T</text><text transform="translate(1040.21,945.1) scale(0.84,1)" font-size="22" fill="#1c152c" letter-spacing="0.000" font-weight="normal" stroke="#1c152c" stroke-width="0.5">a</text><text x="1052.78" y="945.1" font-size="22" fill="#1c152c" letter-spacing="-0.600" font-weight="normal" stroke="#1c152c" stroke-width="0.5">g_</text><text x="1079.19" y="945.1" font-size="22" fill="#1c152c" letter-spacing="0.000" font-weight="normal" stroke="#1c152c" stroke-width="0.5">2</text><text x="1091.97" y="945.1" font-size="22" fill="#1c152c" letter-spacing="0.000" font-weight="normal" stroke="#1c152c" stroke-width="0.5">7</text><text transform="translate(1106.13,938.7) scale(1.1,1)" font-size="12" fill="#1c152c" letter-spacing="0.000" font-weight="bold" stroke="#1c152c" stroke-width="0.4">&quot;</text>
<path d="M1052.2,964.5 Q1046.6,978 1051.5,992" fill="none" stroke="#07070c" stroke-width="3.6" stroke-linecap="round"/>
<path d="M1086.2,964.5 Q1092.4,978 1088.3,992" fill="none" stroke="#07070c" stroke-width="3.6" stroke-linecap="round"/>
<text transform="translate(1060.54,983.3) scale(0.88,1)" font-size="21.5" fill="#1c152c" letter-spacing="0.000" font-weight="normal" stroke="#1c152c" stroke-width="0.5">S</text>
<rect x="836.2" y="399.3" width="236.2" height="80.4" fill="none" stroke="#f3831a" stroke-width="7.4"/>
<rect x="104.5" y="881.1" width="133.3" height="120" fill="none" stroke="#f3831a" stroke-width="6.4"/>
<line x1="834" y1="470.6" x2="254" y2="899.6" stroke="#f3831a" stroke-width="8.2"/>
<path d="M240.2,908.8 L249.9,888.6 L263.3,905.9 Z" fill="#f3831a" stroke="#f3831a" stroke-width="0.8" stroke-linejoin="round"/>
</svg>
</body></html>
